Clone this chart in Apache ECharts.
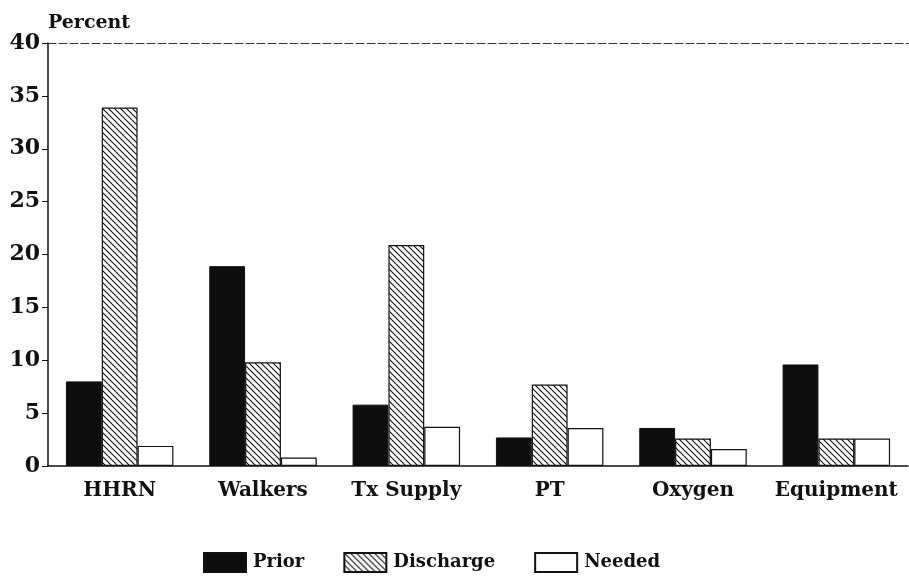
<!DOCTYPE html>
<html><head><meta charset="utf-8">
<script src="https://cdn.jsdelivr.net/npm/echarts@6/dist/echarts.min.js"></script>
<style>html,body{margin:0;padding:0;background:#fff}#c{width:909px;height:587px}</style>
</head><body><div id="c"></div>
<script>
const categories = ['HHRN','Walkers','Tx Supply','PT','Oxygen','Equipment'];
const prior = [8, 18.9, 5.8, 2.7, 3.6, 9.6];
const discharge = [33.9, 9.8, 20.9, 7.7, 2.6, 2.6];
const needed = [1.9, 0.8, 3.7, 3.6, 1.6, 2.6];
const yTicks = [0,5,10,15,20,25,30,35,40];

function hatch(){
  const c = document.createElement('canvas');
  c.width = 6; c.height = 6;
  const g = c.getContext('2d');
  g.fillStyle = '#fff'; g.fillRect(0,0,6,6);
  g.strokeStyle = '#111'; g.lineWidth = 1.1;
  g.beginPath();
  g.moveTo(0,0); g.lineTo(6,6);
  g.moveTo(-3,3); g.lineTo(3,9);
  g.moveTo(3,-3); g.lineTo(9,3);
  g.stroke();
  return c;
}
const font = 'DejaVu Serif';
const chart = echarts.init(document.getElementById('c'));
chart.setOption({
  animation:false,
  grid:{left:48,right:1,top:43,bottom:121},
  legend:{
    bottom:9, left:198, itemWidth:42, itemHeight:19, itemGap:39,
    icon:'rect',
    textStyle:{fontFamily:font,fontWeight:'bold',fontSize:18,color:'#111',padding:[0,0,0,2]},
    data:['Prior','Discharge','Needed']
  },
  xAxis:[{
    type:'category', data:categories,
    axisLine:{lineStyle:{color:'#111',width:1.5}},
    axisTick:{show:false},
    axisLabel:{fontFamily:font,fontWeight:'bold',fontSize:20,color:'#111',margin:15,interval:0}
  },{
    type:'category', data:categories, position:'top',
    axisLine:{lineStyle:{color:'#333',width:1,type:[8,3]}},
    axisTick:{show:false}, axisLabel:{show:false}
  }],
  yAxis:{
    type:'value', min:0, max:40, interval:5,
    name:'Percent', nameGap:10,
    nameTextStyle:{fontFamily:font,fontWeight:'bold',fontSize:19,color:'#111',align:'left'},
    axisLine:{show:true,lineStyle:{color:'#111',width:1.5}},
    axisTick:{show:true,length:6,lineStyle:{color:'#111'}},
    splitLine:{show:false},
    axisLabel:{fontFamily:font,fontWeight:'bold',fontSize:22,color:'#111',margin:8,
      formatter:v=>yTicks.includes(v)?String(v):''}
  },
  series:[
    {name:'Prior',type:'bar',data:prior,barGap:'0%',barCategoryGap:'25%',
     itemStyle:{color:'#0d0d0d',borderColor:'#111',borderWidth:1}},
    {name:'Discharge',type:'bar',data:discharge,barGap:'0%',barCategoryGap:'25%',
     itemStyle:{color:{image:hatch(),repeat:'repeat'},borderColor:'#111',borderWidth:1.2}},
    {name:'Needed',type:'bar',data:needed,barGap:'0%',barCategoryGap:'25%',
     itemStyle:{color:'#fff',borderColor:'#111',borderWidth:1.2}}
  ]
});
</script></body></html>
